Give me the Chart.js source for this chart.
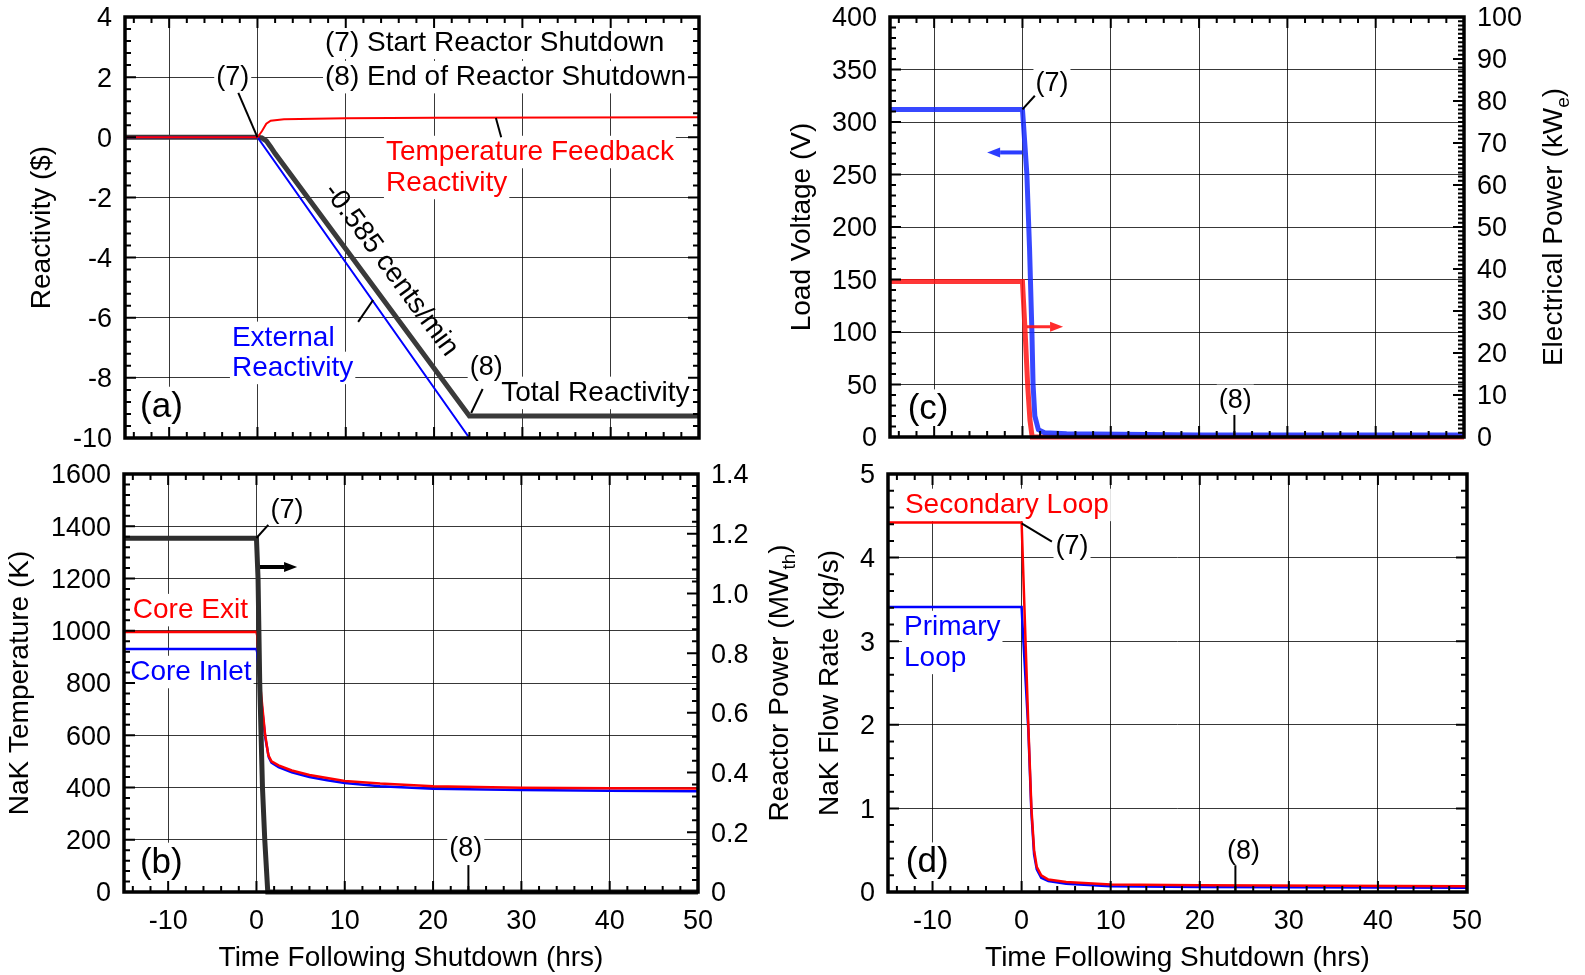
<!DOCTYPE html>
<html lang="en">
<head>
<meta charset="UTF-8">
<title>Reactor Shutdown Transient</title>
<style>
    body { margin: 0; background: #fff; }
    #wrap { position: relative; width: 1585px; height: 975px; }
    #wrap canvas { position: absolute; left: 0; top: 0; }
</style>
</head>
<body>
<div id="wrap">
    <canvas id="chartA" width="1585" height="975"></canvas>
    <canvas id="chartB" width="1585" height="975"></canvas>
    <canvas id="chartC" width="1585" height="975"></canvas>
    <canvas id="chartD" width="1585" height="975"></canvas>
</div>

<script src="https://cdn.jsdelivr.net/npm/chart.js"></script>
<script>
    // ---- data ----
    // (a) reactivity ($)
    const timeFeedback = [-15, 0, 0.5, 1, 1.5, 3, 10, 20, 50];
    const feedbackReact = [0, 0, 0.2, 0.45, 0.55, 0.6, 0.63, 0.65, 0.67];
    const timeExternal = [-15, 0, 24, 50];
    const externalReact = [0, 0, -10, -10];
    const timeTotal = [-15, 0, 0.5, 1, 1.5, 2, 24, 50];
    const totalReact = [0, 0, -0.02, -0.12, -0.32, -0.54, -9.27, -9.27];

    // (b) NaK temperature (K) and reactor power (MWth)
    const timeExit = [-15, 0, 0.1, 0.4, 0.96, 1.34, 1.7, 2.5, 4, 6, 8, 10, 14, 20, 30, 40, 50];
    const coreExitTemp = [995, 995, 980, 800, 608, 524, 500, 485, 465, 448, 436, 425, 415, 405, 399, 397, 396];
    const timeInlet = [-15, 0, 0.1, 0.45, 1.0, 1.4, 1.7, 2.5, 4, 6, 8, 10, 14, 20, 30, 40, 50];
    const coreInletTemp = [930, 930, 915, 760, 590, 515, 495, 478, 458, 440, 428, 417, 405, 395, 390, 388, 386];
    const timePower = [-15, 0, 0.18, 0.37, 0.68, 0.94, 1.28, 50];
    const reactorPower = [1.185, 1.185, 1.05, 0.7, 0.35, 0.175, 0, 0];

    // (c) load voltage (V) and electrical power (kWe)
    const timeVolt = [-15, 0, 0.1, 0.5, 0.8, 1.07, 1.2, 1.4, 1.8, 2.5, 5, 20, 50];
    const loadVoltage = [312, 312, 300, 250, 180, 100, 50, 20, 7, 4, 3, 2, 2];
    const timeElec = [-15, 0, 0.1, 0.3, 0.6, 0.85, 1.1, 50];
    const elecPower = [37, 37, 33, 25, 12, 4, 0, 0];

    // (d) NaK flow rate (kg/s)
    const timeSec = [-15, 0, 0.75, 1.1, 1.4, 1.7, 2.2, 3, 5, 10, 20, 50];
    const secondaryFlow = [4.42, 4.42, 2.0, 1.0, 0.5, 0.3, 0.2, 0.15, 0.12, 0.09, 0.08, 0.07];
    const timePri = [-15, 0, 0.1, 0.75, 1.1, 1.4, 1.7, 2.2, 3, 5, 10, 20, 50];
    const primaryFlow = [3.41, 3.41, 3.2, 1.95, 0.95, 0.45, 0.27, 0.17, 0.13, 0.1, 0.07, 0.06, 0.05];

    // tick values
    const timeTicks = [-10, 0, 10, 20, 30, 40, 50];
    const reactTicks = [-10, -8, -6, -4, -2, 0, 2, 4];
    const tempTicks = [0, 200, 400, 600, 800, 1000, 1200, 1400, 1600];
    const powerTicks = [0, 0.2, 0.4, 0.6, 0.8, 1.0, 1.2, 1.4];
    const voltTicks = [0, 50, 100, 150, 200, 250, 300, 350, 400];
    const elecTicks = [0, 10, 20, 30, 40, 50, 60, 70, 80, 90, 100];
    const flowTicks = [0, 1, 2, 3, 4, 5];

    // ---- look ----
    const FONT = '"Liberation Sans", Arial, Helvetica, sans-serif';
    const RED = '#ff0000';
    const BLUE = '#0000ff';
    const W = 1585, H = 975;

    function font(px) { return px + 'px ' + FONT; }

    // room kept for tick labels on each side of a plot
    function boxSize(pos, show) {
        if (!show) return 0;
        return pos === 'bottom' ? 60 : pos === 'left' ? 110 : 75;
    }

    // text boxes, leader lines, arrows, frame, inward ticks and axis titles
    const decor = {
        id: 'decor',
        beforeDatasetsDraw(chart, args, o) {
            const ctx = chart.ctx;
            (o.labels || []).forEach(l => {
                const size = l.size || 28;
                const px = chart.scales.x.getPixelForValue(l.x);
                const py = chart.scales[l.axis || 'y'].getPixelForValue(l.y);
                ctx.save();
                ctx.font = font(size);
                ctx.textBaseline = 'middle';
                const w = ctx.measureText(l.text).width;
                ctx.translate(px, py);
                if (l.rotRef) {
                    const r = l.rotRef, ys = chart.scales[l.axis || 'y'];
                    const ang = Math.atan2(ys.getPixelForValue(r[3]) - ys.getPixelForValue(r[1]),
                        chart.scales.x.getPixelForValue(r[2]) - chart.scales.x.getPixelForValue(r[0]));
                    ctx.rotate(ang);
                }
                const left = l.align === 'center' ? -w / 2 : 0;
                if (l.bg !== false) {
                    ctx.fillStyle = '#fff';
                    ctx.fillRect(left - 2, -size * 0.58, w + 4, size * 1.16);
                }
                ctx.fillStyle = l.color || '#000';
                ctx.fillText(l.text, left, 0);
                ctx.restore();
            });
        },
        afterDatasetsDraw(chart, args, o) {
            const ctx = chart.ctx, xs = chart.scales.x;
            ctx.save();
            ctx.lineCap = 'butt';
            (o.leaders || []).forEach(d => {
                const ys = chart.scales[d.axis || 'y'];
                ctx.strokeStyle = '#000';
                ctx.lineWidth = 2;
                ctx.beginPath();
                ctx.moveTo(xs.getPixelForValue(d.x1), ys.getPixelForValue(d.y1));
                ctx.lineTo(xs.getPixelForValue(d.x2), ys.getPixelForValue(d.y2));
                ctx.stroke();
            });
            (o.arrows || []).forEach(d => {
                const ys = chart.scales[d.axis || 'y'];
                const x1 = xs.getPixelForValue(d.x1), y1 = ys.getPixelForValue(d.y1);
                const x2 = xs.getPixelForValue(d.x2), y2 = ys.getPixelForValue(d.y2);
                const a = Math.atan2(y2 - y1, x2 - x1), hl = 13, hw = 5;
                ctx.strokeStyle = d.color;
                ctx.fillStyle = d.color;
                ctx.lineWidth = d.width;
                ctx.beginPath();
                ctx.moveTo(x1, y1);
                ctx.lineTo(x2 - hl * Math.cos(a), y2 - hl * Math.sin(a));
                ctx.stroke();
                ctx.beginPath();
                ctx.moveTo(x2, y2);
                ctx.lineTo(x2 - hl * Math.cos(a) - hw * Math.sin(a), y2 - hl * Math.sin(a) + hw * Math.cos(a));
                ctx.lineTo(x2 - hl * Math.cos(a) + hw * Math.sin(a), y2 - hl * Math.sin(a) - hw * Math.cos(a));
                ctx.closePath();
                ctx.fill();
            });
            ctx.restore();
        },
        afterDraw(chart, args, o) {
            const ctx = chart.ctx, a = chart.chartArea;
            ctx.save();
            // inward tick marks on all four sides
            ctx.strokeStyle = '#000';
            ctx.lineWidth = 2;
            const marks = (scale, major, minor, draw) => {
                const n0 = Math.ceil(scale.min / minor - 1e-6), n1 = Math.floor(scale.max / minor + 1e-6);
                for (let n = n0; n <= n1; n++) {
                    const v = n * minor;
                    if (Math.abs(v - scale.min) < 1e-9 || Math.abs(v - scale.max) < 1e-9) continue;
                    const isMajor = Math.abs(v / major - Math.round(v / major)) < 1e-6;
                    draw(scale.getPixelForValue(v), isMajor ? 11 : 6);
                }
            };
            const t = o.ticks;
            const xs = chart.scales.x;
            ctx.beginPath();
            marks(xs, t.x[0], t.x[1], (p, len) => {
                ctx.moveTo(p, a.bottom); ctx.lineTo(p, a.bottom - len);
                ctx.moveTo(p, a.top); ctx.lineTo(p, a.top + len);
            });
            marks(chart.scales[t.left[0]], t.left[1], t.left[2], (p, len) => {
                ctx.moveTo(a.left, p); ctx.lineTo(a.left + len, p);
            });
            marks(chart.scales[t.right[0]], t.right[1], t.right[2], (p, len) => {
                ctx.moveTo(a.right, p); ctx.lineTo(a.right - len, p);
            });
            ctx.stroke();
            // frame
            ctx.lineWidth = 3.5;
            ctx.strokeRect(a.left, a.top, a.right - a.left, a.bottom - a.top);
            // axis titles
            (o.titles || []).forEach(ti => {
                ctx.save();
                ctx.fillStyle = '#000';
                ctx.textBaseline = 'middle';
                const size = 28, sub = 19;
                let cx, cy, rot = 0;
                if (ti.side === 'left') { cx = a.left - ti.offset; cy = (a.top + a.bottom) / 2; rot = -Math.PI / 2; }
                else if (ti.side === 'right') { cx = a.right + ti.offset; cy = (a.top + a.bottom) / 2; rot = -Math.PI / 2; }
                else { cx = (a.left + a.right) / 2; cy = a.bottom + ti.offset; }
                ctx.translate(cx, cy);
                ctx.rotate(rot);
                let total = 0;
                ti.parts.forEach(p => { ctx.font = font(p.sub ? sub : size); total += ctx.measureText(p.t).width; });
                let x = -total / 2;
                ti.parts.forEach(p => {
                    ctx.font = font(p.sub ? sub : size);
                    ctx.fillText(p.t, x, p.sub ? 10 : 0);
                    x += ctx.measureText(p.t).width;
                });
                ctx.restore();
            });
            ctx.restore();
        }
    };
    Chart.register(decor);

    function series(xs, ys, color, width, axis) {
        return {
            data: xs.map((x, i) => ({ x: x, y: ys[i] })),
            borderColor: color,
            borderWidth: width,
            showLine: true,
            pointRadius: 0,
            tension: 0,
            fill: false,
            clip: 6,
            yAxisID: axis || 'y'
        };
    }

    function axis(pos, min, max, tickVals, showLabels, showGrid, fmt) {
        const size = boxSize(pos, showLabels);
        return {
            type: 'linear',
            position: pos,
            min: min,
            max: max,
            afterFit(s) {
                if (pos === 'bottom') s.height = size; else s.width = size;
                s.paddingTop = 0; s.paddingBottom = 0; s.paddingLeft = 0; s.paddingRight = 0;
            },
            afterBuildTicks(s) { s.ticks = tickVals.map(v => ({ value: v })); },
            grid: { display: showGrid, color: 'rgba(0,0,0,0.78)', lineWidth: 1, drawTicks: false },
            border: { display: false },
            ticks: {
                display: showLabels,
                color: '#000',
                font: { family: FONT, size: 27 },
                padding: pos === 'bottom' ? 13 : 13,
                labelOffset: pos === 'bottom' ? 0 : 2,
                autoSkip: false,
                maxRotation: 0,
                callback: fmt || (v => String(v))
            }
        };
    }

    function panel(id, area, scales, datasets, decorOpts) {
        const pad = { left: area.l, top: area.t, right: W - area.r, bottom: H - area.b };
        Object.values(scales).forEach(s => {
            pad[s.position] -= boxSize(s.position, s.ticks.display);
        });
        return new Chart(document.getElementById(id), {
            type: 'scatter',
            data: { datasets: datasets },
            options: {
                responsive: false,
                animation: false,
                events: [],
                layout: { padding: pad },
                plugins: { legend: { display: false }, tooltip: { enabled: false }, decor: decorOpts },
                scales: scales
            }
        });
    }

    const timeTitle = { side: 'bottom', offset: 66, parts: [{ t: 'Time Following Shutdown (hrs)' }] };

    // (a) reactivity
    panel('chartA', { l: 125, t: 17, r: 699, b: 438 }, {
        x: axis('bottom', -15, 50, timeTicks, false, true),
        y: axis('left', -10, 4, reactTicks, true, true)
    }, [
        series(timeFeedback, feedbackReact, RED, 2),
        series(timeExternal, externalReact, BLUE, 2),
        series(timeTotal, totalReact, '#3a3a3a', 5)
    ], {
        ticks: { x: [10, 2], left: ['y', 2, 0.4], right: ['y', 2, 0.4] },
        titles: [{ side: 'left', offset: 83, parts: [{ t: 'Reactivity ($)' }] }],
        labels: [
            { text: '(7)', x: -2.8, y: 2.0, align: 'center', size: 27 },
            { text: '(7) Start Reactor Shutdown', x: 7.65, y: 3.14 },
            { text: '(8) End of Reactor Shutdown', x: 7.65, y: 2.0 },
            { text: 'Temperature Feedback', x: 14.55, y: -0.49, color: RED },
            { text: 'Reactivity', x: 14.55, y: -1.52, color: RED },
            { text: 'External', x: -2.89, y: -6.67, color: BLUE },
            { text: 'Reactivity', x: -2.89, y: -7.67, color: BLUE },
            { text: '(8)', x: 25.9, y: -7.67, align: 'center', size: 27 },
            { text: 'Total Reactivity', x: 27.6, y: -8.5 },
            { text: '(a)', x: -13.3, y: -8.97, size: 35 },
            { text: '-0.585 cents/min', x: 15.1, y: -4.41, align: 'center', rotRef: [2, -0.54, 24, -9.27], bg: false }
        ],
        leaders: [
            { x1: -2.17, y1: 1.48, x2: 0, y2: 0 },
            { x1: 27.0, y1: 0.64, x2: 27.6, y2: 0.0 },
            { x1: 11.4, y1: -6.14, x2: 13.1, y2: -5.41 },
            { x1: 25.5, y1: -8.37, x2: 24.2, y2: -9.17 }
        ]
    });

    // (b) temperatures and reactor power
    panel('chartB', { l: 124, t: 474, r: 698, b: 892 }, {
        x: axis('bottom', -15, 50, timeTicks, true, true),
        y: axis('left', 0, 1600, tempTicks, true, true),
        y2: axis('right', 0, 1.4, powerTicks, true, false, v => (v === 0 ? '0' : v.toFixed(1)))
    }, [
        series(timePower, reactorPower, '#2e2e2e', 5, 'y2'),
        series(timeExit, coreExitTemp, RED, 2.5),
        series(timeInlet, coreInletTemp, BLUE, 2.5)
    ], {
        ticks: { x: [10, 2], left: ['y', 200, 40], right: ['y2', 0.2, 0.04] },
        titles: [
            { side: 'left', offset: 104, parts: [{ t: 'NaK Temperature (K)' }] },
            { side: 'right', offset: 82, parts: [{ t: 'Reactor Power (MW' }, { t: 'th', sub: true }, { t: ')' }] },
            timeTitle
        ],
        labels: [
            { text: '(7)', x: 3.45, y: 1462, align: 'center', size: 27 },
            { text: 'Core Exit', x: -14.0, y: 1079, color: RED },
            { text: 'Core Inlet', x: -14.3, y: 842, color: BLUE },
            { text: '(b)', x: -13.2, y: 111, size: 35 },
            { text: '(8)', x: 23.7, y: 168, align: 'center', size: 27 }
        ],
        leaders: [
            { x1: 0, y1: 1355, x2: 1.34, y2: 1405 },
            { x1: 24, y1: 103, x2: 24, y2: 0 }
        ],
        arrows: [
            { x1: 0.4, y1: 1244, x2: 4.6, y2: 1244, color: '#000', width: 4 }
        ]
    });

    // (c) load voltage and electrical power
    panel('chartC', { l: 890, t: 17, r: 1464, b: 437 }, {
        x: axis('bottom', -15, 50, timeTicks, false, true),
        y: axis('left', 0, 400, voltTicks, true, true),
        y2: axis('right', 0, 100, elecTicks, true, false)
    }, [
        series(timeVolt, loadVoltage, 'rgba(20,40,255,0.85)', 5),
        series(timeElec, elecPower, 'rgba(255,20,20,0.85)', 5, 'y2')
    ], {
        ticks: { x: [10, 2], left: ['y', 50, 10], right: ['y2', 10, 1] },
        titles: [
            { side: 'left', offset: 88, parts: [{ t: 'Load Voltage (V)' }] },
            { side: 'right', offset: 90, parts: [{ t: 'Electrical Power (kW' }, { t: 'e', sub: true }, { t: ')' }] }
        ],
        labels: [
            { text: '(7)', x: 3.34, y: 337, align: 'center', size: 27 },
            { text: '(c)', x: -13.0, y: 26, size: 35 },
            { text: '(8)', x: 24.1, y: 35, align: 'center', size: 27 }
        ],
        leaders: [
            { x1: 0, y1: 312, x2: 1.4, y2: 325 },
            { x1: 24, y1: 21, x2: 24, y2: 0 }
        ],
        arrows: [
            { x1: 0, y1: 271, x2: -4.0, y2: 271, color: 'rgba(20,40,255,0.9)', width: 4 },
            { x1: 0.5, y1: 105, x2: 4.6, y2: 105, color: 'rgba(255,20,20,0.9)', width: 3 }
        ]
    });

    // (d) flow rates
    panel('chartD', { l: 888, t: 474, r: 1467, b: 892 }, {
        x: axis('bottom', -15, 50, timeTicks, true, true),
        y: axis('left', 0, 5, flowTicks, true, true)
    }, [
        series(timeSec, secondaryFlow, RED, 2.5),
        series(timePri, primaryFlow, BLUE, 2.5)
    ], {
        ticks: { x: [10, 2], left: ['y', 1, 0.2], right: ['y', 1, 0.2] },
        titles: [
            { side: 'left', offset: 58, parts: [{ t: 'NaK Flow Rate (kg/s)' }] },
            timeTitle
        ],
        labels: [
            { text: 'Secondary Loop', x: -13.1, y: 4.63, color: RED },
            { text: '(7)', x: 5.66, y: 4.13, align: 'center', size: 27 },
            { text: 'Primary', x: -13.2, y: 3.17, color: BLUE },
            { text: 'Loop', x: -13.2, y: 2.8, color: BLUE },
            { text: '(d)', x: -13.0, y: 0.35, size: 35 },
            { text: '(8)', x: 24.9, y: 0.48, align: 'center', size: 27 }
        ],
        leaders: [
            { x1: 0, y1: 4.41, x2: 3.4, y2: 4.19 },
            { x1: 24, y1: 0.32, x2: 24, y2: 0 }
        ]
    });
</script>
</body>
</html>
